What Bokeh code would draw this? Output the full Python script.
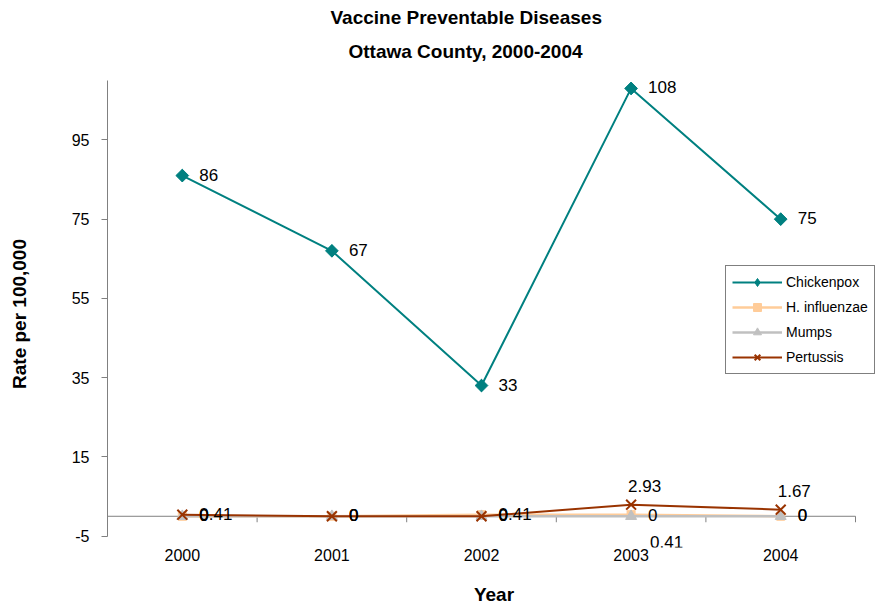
from bokeh.plotting import figure
from bokeh.models import Range1d, FixedTicker, Legend, LegendItem, Title, ColumnDataSource
from bokeh.core.properties import value
from bokeh.embed import file_html
from bokeh.resources import INLINE
import numpy as np

# ---- data ----
years = ["2000", "2001", "2002", "2003", "2004"]
chickenpox = [86, 67, 33, 108, 75]
h_influenzae = [0, 0, 0.41, 0.41, 0]
mumps = [0, 0, 0, 0, 0]
pertussis = [0.41, 0, 0, 2.93, 1.67]
y_ticks = [-5, 15, 35, 55, 75, 95]
y_min, y_max = -5, 110

# label placement (style)
chickenpox_pos = ["right"] * 5
h_influenzae_pos = ["right", "right", "right", "below", "right"]
mumps_pos = ["right"] * 5
pertussis_pos = ["right", "right", "right", "above", "above"]

FONT = "Liberation Sans"
GRAY = "#808080"

x = list(range(len(years)))

# frame geometry (px)
W, H = 880, 607
LEFT, TOP, BOTTOM_BORDER, RIGHT_BORDER = 107, 80, 59, 0
frame_w = W - LEFT - RIGHT_BORDER
frame_h = H - TOP - BOTTOM_BORDER
px_per_cat = 748 / len(years)
x_end = -0.5 + frame_w / px_per_cat
px_per_unit = 397 / 100.0
y_start = y_min - (frame_h - (y_max - y_min) * px_per_unit) / px_per_unit

p = figure(width=W, height=H, output_backend="svg", toolbar_location=None,
           x_range=Range1d(-0.5, x_end), y_range=Range1d(y_start, y_max),
           min_border_left=LEFT, min_border_right=RIGHT_BORDER,
           min_border_top=TOP, min_border_bottom=BOTTOM_BORDER)
p.outline_line_color = None
p.grid.visible = False

# titles
p.add_layout(Title(text="Ottawa County, 2000-2004", align="left", text_font=FONT,
                   text_font_size="19px", text_font_style="bold", text_color="black",
                   standoff=37, offset=241), "above")
p.add_layout(Title(text="Vaccine Preventable Diseases", align="left", text_font=FONT,
                   text_font_size="19px", text_font_style="bold", text_color="black",
                   standoff=-15, offset=223), "above")

# x axis (labels only, at bottom)
xa = p.xaxis[0]
xa.ticker = FixedTicker(ticks=x)
xa.major_label_overrides = {i: y for i, y in enumerate(years)}
xa.axis_line_color = None
xa.major_tick_line_color = None
xa.minor_tick_line_color = None
xa.major_label_text_font = FONT
xa.major_label_text_font_size = "16px"
xa.major_label_text_color = "black"
xa.major_label_standoff = -5
xa.axis_label = "Year"
xa.axis_label_text_font = FONT
xa.axis_label_text_font_size = "19px"
xa.axis_label_text_font_style = "bold"
xa.axis_label_text_color = "black"
xa.axis_label_standoff = 20

# y axis
ya = p.yaxis[0]
ya.ticker = FixedTicker(ticks=y_ticks)
ya.bounds = (y_min, y_max)
ya.major_label_overrides = {t: str(t) for t in y_ticks}
ya.axis_line_color = GRAY
ya.major_tick_line_color = GRAY
ya.major_tick_out = 6
ya.major_tick_in = 0
ya.minor_tick_line_color = None
ya.major_label_text_font = FONT
ya.major_label_text_font_size = "16px"
ya.major_label_text_color = "black"
ya.major_label_standoff = 12
ya.axis_label = "Rate per 100,000"
ya.axis_label_text_font = FONT
ya.axis_label_text_font_size = "19px"
ya.axis_label_text_font_style = "bold"
ya.axis_label_text_color = "black"
ya.axis_label_standoff = 39

# horizontal category axis at y = 0
bounds = [i - 0.5 for i in range(len(years) + 1)]
p.segment(x0=[bounds[0]], y0=[0], x1=[bounds[-1]], y1=[0], line_color=GRAY, line_width=1)
p.segment(x0=bounds, y0=[0] * len(bounds), x1=bounds, y1=[-6 / px_per_unit] * len(bounds),
          line_color=GRAY, line_width=1)

series = [
    ("Chickenpox", chickenpox, chickenpox_pos, "#008080", dict(marker="square", angle=np.pi / 4, size=9), 2),
    ("H. influenzae", h_influenzae, h_influenzae_pos, "#FFCC99", dict(marker="square", size=8), 2.5),
    ("Mumps", mumps, mumps_pos, "#C0C0C0", dict(marker="triangle", size=11), 2.5),
    ("Pertussis", pertussis, pertussis_pos, "#993300", dict(marker="x", size=14), 2),
]

items = []
for name, vals, pos, color, mk, lw in series:
    ln = p.line(x, vals, line_color=color, line_width=lw)
    extra = {}
    if mk["marker"] == "x":
        extra = dict(line_width=2)
    if name == "Chickenpox":
        # diamond used for the legend swatch, hidden under the rotated square
        leg = p.scatter(x, vals, marker="diamond", size=12, fill_color=color, line_color=color)
        p.scatter(x, vals, fill_color=color, line_color=color, **mk)
        items.append(LegendItem(label=name, renderers=[ln, leg]))
    else:
        sc = p.scatter(x, vals, fill_color=color, line_color=color, **mk, **extra)
        items.append(LegendItem(label=name, renderers=[ln, sc]))

for name, vals, pos, color, mk, lw in series:
    xo, yo = [], []
    for ps in pos:
        if ps == "right":
            xo.append(17); yo.append(-1)
        elif ps == "above":
            xo.append(-3); yo.append(-19)
        else:  # below
            xo.append(19); yo.append(27)
    labels = [("%g" % v) for v in vals]
    src = ColumnDataSource(dict(x=x, y=vals, t=labels, xo=xo, yo=yo))
    p.text(x="x", y="y", text="t", x_offset="xo", y_offset="yo", text_align="left",
           text_baseline="middle", text_font=value(FONT), text_font_size="17px",
           text_color="black", source=src)

legend = Legend(items=items, location=(618, 173), orientation="vertical",
                border_line_color="black", border_line_width=1,
                background_fill_color="white", background_fill_alpha=1,
                label_text_font=FONT, label_text_font_size="14px", label_text_color="black",
                glyph_width=50, glyph_height=20, label_height=20, spacing=5,
                padding=6, margin=0, label_standoff=4)
p.add_layout(legend)

open("out.html", "w").write(file_html(p, INLINE))
